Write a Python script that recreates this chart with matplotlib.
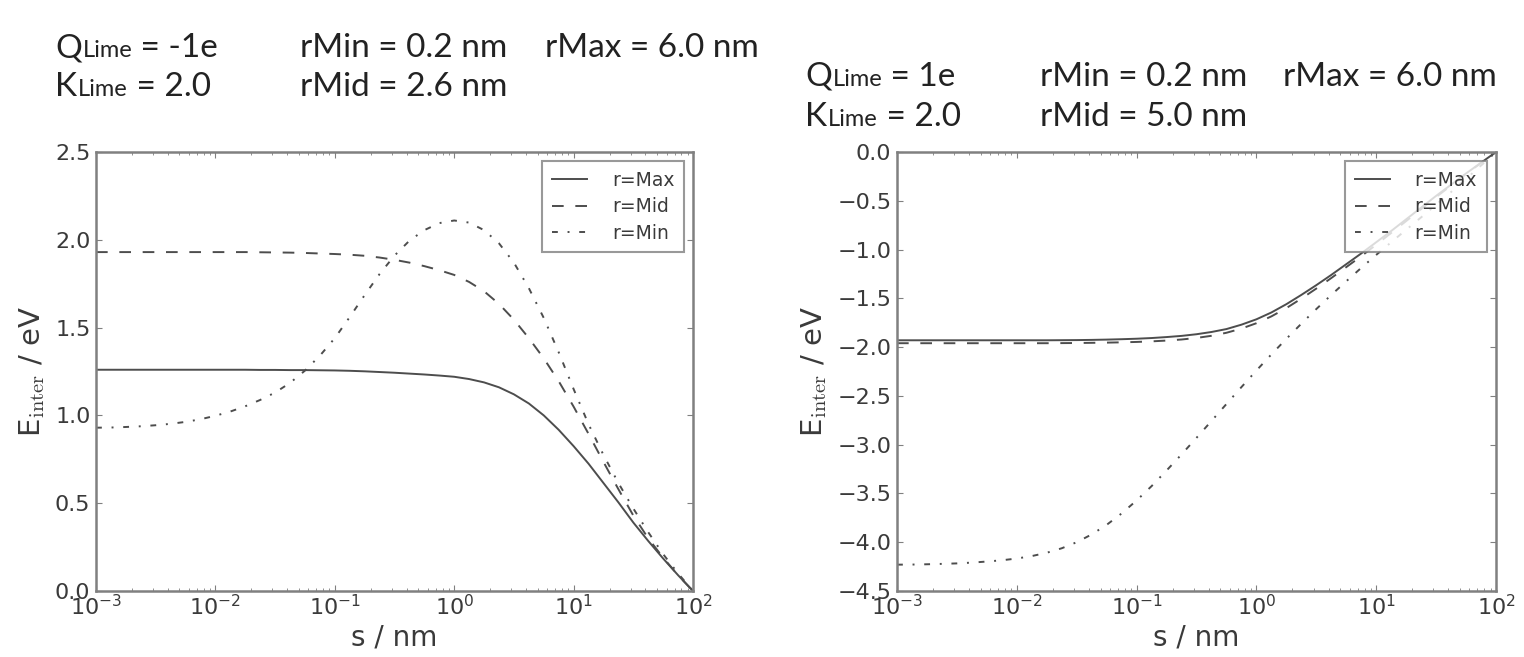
import numpy as np
import matplotlib
matplotlib.use("Agg")
import matplotlib.pyplot as plt
from matplotlib.ticker import LogLocator, NullLocator, MultipleLocator

# separation s (nm): log10 values in eighth-decade steps from 1e-3 to 1e2
log_s = [-3.0, -2.875, -2.75, -2.625, -2.5, -2.375, -2.25, -2.125,
         -2.0, -1.875, -1.75, -1.625, -1.5, -1.375, -1.25, -1.125,
         -1.0, -0.875, -0.75, -0.625, -0.5, -0.375, -0.25, -0.125,
         0.0, 0.125, 0.25, 0.375, 0.5, 0.625, 0.75, 0.875,
         1.0, 1.125, 1.25, 1.375, 1.5, 1.625, 1.75, 1.875, 2.0]

# Q = -1e, rMid = 2.6 nm  (energies in eV)
neg_max = [1.260, 1.260, 1.260, 1.260, 1.260, 1.260, 1.260, 1.260,
           1.260, 1.260, 1.260, 1.259, 1.259, 1.258, 1.258, 1.257,
           1.256, 1.254, 1.251, 1.247, 1.243, 1.238, 1.233, 1.227,
           1.220, 1.207, 1.188, 1.160, 1.120, 1.068, 1.000, 0.918,
           0.825, 0.725, 0.615, 0.505, 0.390, 0.285, 0.185, 0.090, 0.000]
neg_mid = [1.930, 1.930, 1.930, 1.930, 1.930, 1.930, 1.930, 1.930,
           1.930, 1.930, 1.930, 1.929, 1.928, 1.927, 1.925, 1.922,
           1.919, 1.915, 1.909, 1.899, 1.886, 1.870, 1.850, 1.827,
           1.800, 1.760, 1.707, 1.635, 1.545, 1.440, 1.325, 1.195,
           1.050, 0.895, 0.735, 0.580, 0.430, 0.300, 0.190, 0.090, 0.000]
neg_min = [0.930, 0.931, 0.934, 0.938, 0.944, 0.952, 0.963, 0.978,
           0.998, 1.022, 1.052, 1.088, 1.130, 1.185, 1.255, 1.340,
           1.440, 1.560, 1.685, 1.805, 1.910, 1.995, 2.055, 2.095,
           2.110, 2.098, 2.055, 1.980, 1.870, 1.725, 1.555, 1.360,
           1.150, 0.950, 0.775, 0.615, 0.470, 0.335, 0.210, 0.100, 0.000]

# Q = +1e, rMid = 5.0 nm  (energies in eV)
pos_max = [-1.930, -1.930, -1.930, -1.930, -1.930, -1.930, -1.930, -1.930,
           -1.930, -1.930, -1.930, -1.929, -1.928, -1.926, -1.923, -1.919,
           -1.914, -1.907, -1.897, -1.885, -1.868, -1.845, -1.815, -1.770,
           -1.715, -1.645, -1.560, -1.465, -1.365, -1.260, -1.150, -1.040,
           -0.925, -0.810, -0.690, -0.570, -0.450, -0.335, -0.220, -0.110, 0.000]
pos_mid = [-1.960, -1.960, -1.960, -1.960, -1.960, -1.960, -1.960, -1.960,
           -1.960, -1.960, -1.960, -1.959, -1.958, -1.956, -1.954, -1.951,
           -1.947, -1.941, -1.933, -1.922, -1.906, -1.884, -1.853, -1.810,
           -1.755, -1.685, -1.600, -1.503, -1.400, -1.292, -1.180, -1.068,
           -0.950, -0.830, -0.708, -0.585, -0.462, -0.343, -0.226, -0.112, 0.000]
pos_min = [-4.230, -4.229, -4.226, -4.222, -4.217, -4.209, -4.198, -4.185,
           -4.167, -4.142, -4.108, -4.062, -4.000, -3.920, -3.822, -3.705,
           -3.572, -3.425, -3.265, -3.100, -2.930, -2.757, -2.583, -2.410,
           -2.240, -2.075, -1.915, -1.760, -1.610, -1.465, -1.325, -1.188,
           -1.055, -0.925, -0.797, -0.670, -0.540, -0.410, -0.275, -0.139, 0.000]

series_labels = ["r=Max", "r=Mid", "r=Min"]

s_nm = 10.0 ** np.asarray(log_s)

W, H = 1524, 657
fig = plt.figure(figsize=(W / 100, H / 100), dpi=100, facecolor="white")

INK = "#3a3a3a"
LINE = "#4d4d4d"
FRAME = "#808080"

plt.rcParams.update({
    "font.family": "DejaVu Sans",
    "xtick.direction": "in",
    "ytick.direction": "in",
    "xtick.top": True,
    "ytick.right": True,
    "xtick.major.size": 4,
    "xtick.minor.size": 2,
    "ytick.major.size": 4,
    "xtick.color": FRAME,
    "ytick.color": FRAME,
    "xtick.labelcolor": INK,
    "ytick.labelcolor": INK,
})

# solid, dashed and dash-dot strokes for r = Max, Mid, Min
styles = [dict(ls="-"), dict(ls=(0, (6, 6))), dict(ls=(0, (3, 5, 1, 5)))]


def panel(rect, ys, ylim, ystep):
    ax = fig.add_axes(rect)
    for y, st, lab in zip(ys, styles, series_labels):
        ax.plot(s_nm, y, color=LINE, lw=1.4, label=lab, **st)
    ax.set_xscale("log")
    ax.set_xlim(1e-3, 1e2)
    ax.set_ylim(*ylim)
    ax.yaxis.set_major_locator(MultipleLocator(ystep))
    ax.xaxis.set_major_locator(LogLocator(base=10, numticks=10))
    ax.xaxis.set_minor_locator(LogLocator(base=10, subs=np.arange(2, 10), numticks=20))
    ax.yaxis.set_minor_locator(NullLocator())
    ax.tick_params(axis="both", which="major", labelsize=16, pad=4)
    ax.tick_params(axis="x", which="major", pad=2)
    for sp in ax.spines.values():
        sp.set_color(FRAME)
        sp.set_linewidth(1.8)
    ax.set_xlabel("s / nm", fontsize=20, color=INK, labelpad=3)
    ax.set_ylabel(r"E$_{\mathrm{inter}}$ / eV", fontsize=21, color=INK,
                  math_fontfamily="cm", labelpad=6)
    leg = ax.legend(loc="upper right", fontsize=13.5, frameon=True, fancybox=False,
                    handlelength=1.9, borderpad=0.5, labelspacing=0.4,
                    handletextpad=1.3, borderaxespad=0.5)
    leg.get_frame().set_edgecolor(FRAME)
    leg.get_frame().set_linewidth(1.5)
    for t in leg.get_texts():
        t.set_color(INK)
    return ax


ax1 = panel([96 / W, 1 - 591 / H, 597 / W, 439 / H],
            [neg_max, neg_mid, neg_min], (0.0, 2.5), 0.5)
ax2 = panel([897 / W, 1 - 591 / H, 599 / W, 439 / H],
            [pos_max, pos_mid, pos_min], (-4.5, 0.0), 0.5)

HEAD = "Lato"
HEAD_INK = "#222222"


def sub_label(x, y, big, small, rest):
    """Draw e.g. 'Q' + small 'Lime' + ' = -1e' on one baseline (pixel coords)."""
    t = fig.text(x / W, 1 - y / H, big, fontsize=24, family=HEAD, color=HEAD_INK,
                 va="baseline")
    t2 = fig.text(0, 0, small, fontsize=17, family=HEAD, color=HEAD_INK,
                  va="baseline")
    t3 = fig.text(0, 0, rest, fontsize=24, family=HEAD, color=HEAD_INK,
                  va="baseline")
    fig.canvas.draw()
    r = fig.canvas.get_renderer()
    bb = t.get_window_extent(r)
    t2.set_position((bb.x1 / W + 1 / W, 1 - y / H))
    bb2 = t2.get_window_extent(r)
    t3.set_position((bb2.x1 / W, 1 - y / H))


def plain(x, y, s):
    fig.text(x / W, 1 - y / H, s, fontsize=24, family=HEAD, color=HEAD_INK,
             va="baseline")


# header for the left panel
sub_label(55, 57, "Q", "Lime", " = -1e")
sub_label(55, 96, "K", "Lime", " = 2.0")
plain(300, 57, "rMin = 0.2 nm")
plain(545, 57, "rMax = 6.0 nm")
plain(300, 96, "rMid = 2.6 nm")

# header for the right panel
sub_label(805, 86, "Q", "Lime", " = 1e")
sub_label(805, 126, "K", "Lime", " = 2.0")
plain(1040, 86, "rMin = 0.2 nm")
plain(1283, 86, "rMax = 6.0 nm")
plain(1040, 126, "rMid = 5.0 nm")

fig.savefig("out.png", dpi=100, facecolor="white")
